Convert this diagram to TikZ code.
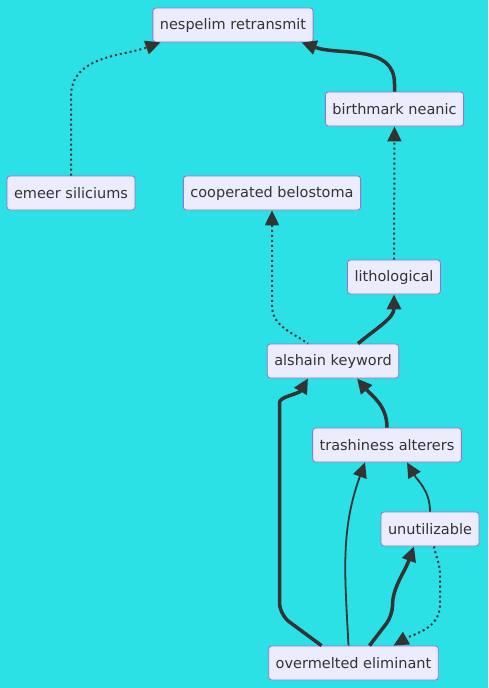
\documentclass[tikz,border=0pt]{standalone}
\usepackage{fontspec}
\setmainfont{DejaVu Sans}
\usepackage{tikz}
\usetikzlibrary{positioning, arrows.meta}
\definecolor{bgcyan}{HTML}{2BE1E6}
\definecolor{boxfill}{HTML}{ECECFF}
\definecolor{boxline}{HTML}{9370DB}
\definecolor{inkgrey}{HTML}{333333}

\begin{document}
\begin{tikzpicture}[x=1pt, y=1pt, font=\fontsize{14.5}{16}\selectfont,
    box/.style={draw=boxline, fill=boxfill, line width=0.8pt, rounded corners=3pt,
      text=inkgrey, minimum height=34pt, inner xsep=7pt, inner ysep=0pt},
    link/.style={draw=inkgrey, line width=1.8pt, -{Triangle[length=15pt, width=14pt]}},
    boldlink/.style={link, line width=3.5pt},
    dotlink/.style={link, line width=2pt, dash pattern=on 2pt off 3pt}]
        \useasboundingbox (0,0) rectangle (488,-688);
        \fill[bgcyan] (0,0) rectangle (488,-688);
        \node[box] (nesp) at (233,-25) {nespelim retransmit};
        \node[box] (birth) at (394.5,-109) {birthmark neanic};
        \node[box] (emeer) at (71,-193) {emeer siliciums};
        \node[box] (coop) at (272,-193) {cooperated belostoma};
        \node[box] (litho) at (394,-277) {lithological};
        \node[box] (alsh) at (333,-361) {alshain keyword};
        \node[box] (trash) at (387,-445) {trashiness alterers};
        \node[box] (unut) at (430,-529) {unutilizable};
        \node[box] (over) at (353.5,-663) {overmelted eliminant};
        \draw[dotlink] (emeer.north) -- ++(0,79) to[out=90, in=200] ([xshift=8pt]nesp.south west);
        \draw[boldlink] (birth.north) -- ++(0,8) to[out=90, in=-20] ([xshift=-12pt]nesp.south east);
        \draw[dotlink] (litho.north) -- (birth.south);
        \draw[dotlink, {Triangle[length=15pt, width=14pt]}-] (coop.south) -- ++(0,-95) to[out=-90, in=145] ([xshift=-25pt]alsh.north);
        \draw[boldlink] ([xshift=25pt]alsh.north) to[out=40, in=-90] (litho.south);
        \draw[boldlink] (trash.north) to[out=90, in=-50] ([xshift=24pt]alsh.south);
        \draw[boldlink, rounded corners=12pt] ([xshift=-32pt]over.north) -- ++(-42,31) -- ++(0,200) to[out=90, in=-120] ([xshift=-25pt]alsh.south);
        \draw[link] ([xshift=-5pt]over.north) to[out=93, in=-110] ([xshift=-22pt]trash.south);
        \draw[link] (unut.north) to[out=90, in=-60] ([xshift=20pt]trash.south);
        \draw[boldlink, rounded corners=10pt] ([xshift=16pt]over.north) -- ++(23,30) to[out=90, in=-110] ([xshift=-16pt]unut.south);
        \draw[dotlink] ([xshift=4pt]unut.south) to[out=-80, in=90] ++(6,-28) -- ++(0,-30) to[out=-90, in=30] ([xshift=40pt]over.north);
      \end{tikzpicture}
\end{document}
